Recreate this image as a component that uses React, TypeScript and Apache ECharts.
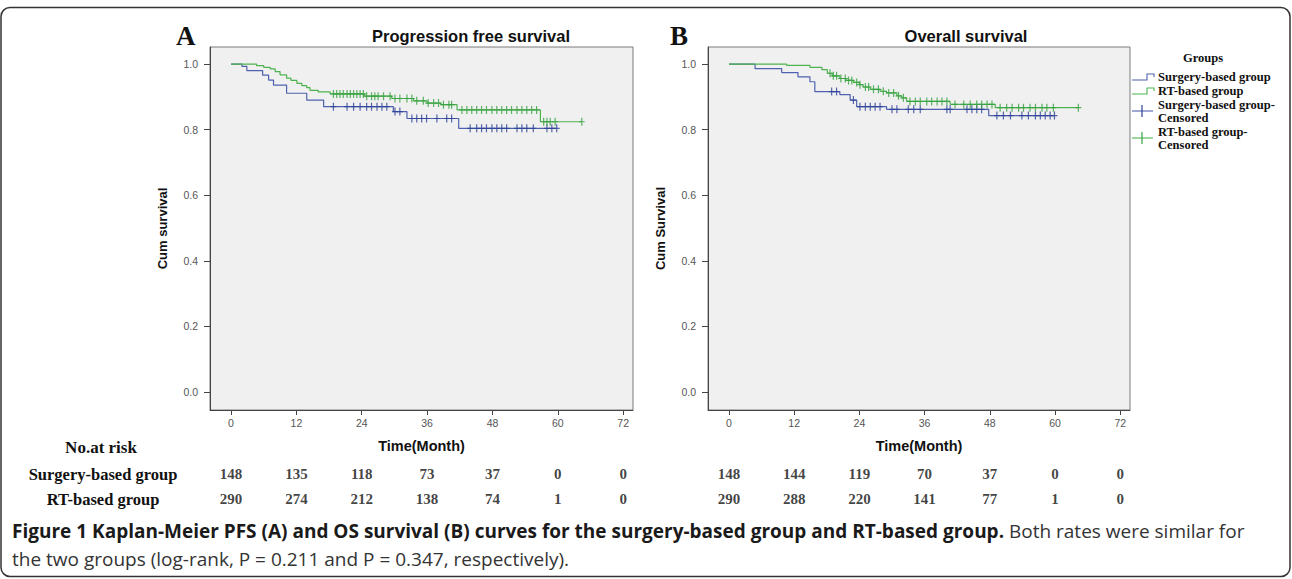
import React, { useEffect, useRef } from "react";
import * as echarts from "echarts";

// ---------- data ----------
const tickMonths = [0, 12, 24, 36, 48, 60, 72];
const yTicks = [0, 0.2, 0.4, 0.6, 0.8, 1.0];
const groupNames = ["Surgery-based group", "RT-based group"];

// Progression free survival (A)
const pfsSurgEventT = [2.0, 2.9, 5.8, 6.9, 7.8, 10.2, 13.9, 17.0, 29.8, 32.3, 41.8];
const pfsSurgEventS = [0.993, 0.98, 0.966, 0.951, 0.936, 0.911, 0.89, 0.87, 0.855, 0.834, 0.804];
const pfsSurgCens = [18.8, 21.3, 22.5, 23.7, 24.9, 25.8, 26.8, 27.7, 28.6, 30.1, 31.0, 33.2, 34.1, 35.0, 35.9, 37.8, 39.6, 40.5, 43.9, 45.1, 46.0, 46.9, 47.9, 48.8, 49.7, 50.6, 52.5, 53.4, 54.3, 55.5, 58.0, 58.9, 59.8];

const pfsRtEventT = [4.7, 6.0, 7.2, 8.1, 9.0, 10.2, 11.0, 12.1, 13.0, 13.9, 14.5, 16.0, 18.2, 24.5, 29.5, 33.5, 36.0, 38.5, 41.5, 56.8];
const pfsRtEventS = [0.995, 0.99, 0.985, 0.977, 0.967, 0.957, 0.95, 0.941, 0.934, 0.928, 0.92, 0.915, 0.909, 0.902, 0.895, 0.888, 0.881, 0.876, 0.86, 0.824];
const pfsRtCens = [18.8, 19.4, 20.0, 20.6, 21.3, 21.9, 22.5, 23.1, 23.7, 24.3, 24.9, 25.8, 26.4, 27.0, 28.0, 29.2, 30.1, 31.0, 32.3, 33.2, 34.1, 35.3, 36.2, 37.2, 38.1, 39.0, 40.0, 40.5, 42.4, 43.3, 44.2, 45.1, 46.0, 46.9, 47.9, 48.8, 49.7, 50.6, 51.5, 52.5, 53.4, 54.3, 55.2, 56.1, 57.4, 58.0, 58.6, 59.5, 64.4];

// Overall survival (B)
const osSurgEventT = [4.8, 9.7, 12.7, 14.9, 15.8, 20.4, 22.3, 23.5, 29.0, 47.8];
const osSurgEventS = [0.986, 0.974, 0.961, 0.946, 0.916, 0.907, 0.89, 0.87, 0.862, 0.843];
const osSurgCens = [18.9, 19.8, 22.9, 24.1, 25.1, 26.0, 26.9, 27.8, 30.0, 30.9, 33.0, 34.0, 35.2, 40.1, 40.7, 43.8, 44.7, 45.6, 46.5, 49.3, 50.5, 51.8, 53.9, 55.1, 56.4, 57.3, 58.2, 59.1, 59.9];

const osRtEventT = [10.6, 14.9, 17.1, 18.1, 19.0, 20.4, 21.5, 22.9, 24.0, 24.7, 26.0, 27.8, 29.0, 30.9, 31.8, 32.7, 40.7, 49.0];
const osRtEventS = [0.996, 0.99, 0.983, 0.972, 0.964, 0.956, 0.95, 0.944, 0.937, 0.93, 0.923, 0.917, 0.912, 0.903, 0.897, 0.886, 0.877, 0.867];
const osRtCens = [18.6, 19.2, 19.8, 20.6, 21.4, 22.0, 22.6, 23.5, 24.1, 25.1, 25.7, 26.6, 27.5, 28.4, 29.4, 30.3, 31.2, 32.1, 33.3, 34.3, 35.2, 36.4, 37.3, 38.3, 39.2, 40.1, 41.6, 43.2, 44.4, 45.6, 46.5, 47.5, 48.4, 49.9, 51.1, 52.1, 53.3, 54.2, 55.4, 56.4, 57.6, 58.5, 59.7, 64.3];

// Number at risk
const pfsRiskSurg = [148, 135, 118, 73, 37, 0, 0];
const pfsRiskRt = [290, 274, 212, 138, 74, 1, 0];
const osRiskSurg = [148, 144, 119, 70, 37, 0, 0];
const osRiskRt = [290, 288, 220, 141, 77, 1, 0];

// ---------- helpers ----------
const BLUE = "#4f61ae";
const BLUE_D = "#2c4196";
const GREEN = "#4db34f";
const GREEN_D = "#36a040";
const PLUS =
  "path://M2.4,0 L3.6,0 L3.6,3.4 L6,3.4 L6,4.6 L3.6,4.6 L3.6,8 L2.4,8 L2.4,4.6 L0,4.6 L0,3.4 L2.4,3.4 Z";

function kmLine(evT: number[], evS: number[], cens: number[]) {
  const pts: number[][] = [[0, 1]];
  evT.forEach((t, i) => pts.push([t, evS[i]]));
  const end = Math.max(...cens, evT[evT.length - 1]);
  pts.push([end, evS[evS.length - 1]]);
  return pts;
}
function survAt(evT: number[], evS: number[], t: number) {
  let s = 1;
  for (let i = 0; i < evT.length; i++) if (evT[i] <= t) s = evS[i];
  return s;
}
function censPts(evT: number[], evS: number[], cens: number[]) {
  return cens.map((t) => [t, survAt(evT, evS, t)]);
}
function riskPts(surg: number[], rt: number[]) {
  const out: any[] = [];
  tickMonths.forEach((t, i) => {
    out.push([t, groupNames[0], surg[i]]);
    out.push([t, groupNames[1], rt[i]]);
  });
  return out;
}

const X_MIN = -3.86;
const X_MAX = 73.8;
const Y_MIN = -0.055;
const Y_MAX = 1.052;

function plotX(gi: number, name: string) {
  return {
    type: "value",
    gridIndex: gi,
    min: X_MIN,
    max: X_MAX,
    name,
    nameLocation: "middle",
    nameGap: 28,
    nameTextStyle: { fontFamily: "Liberation Sans", fontWeight: "bold", fontSize: 14.5, color: "#111" },
    axisLine: { show: true, onZero: false, lineStyle: { color: "#444", width: 1 } },
    axisTick: { show: true, length: 5, customValues: tickMonths, lineStyle: { color: "#444" } },
    axisLabel: { show: true, customValues: tickMonths, margin: 7, fontSize: 10.5, color: "#555", fontFamily: "Liberation Sans" },
    splitLine: { show: false },
  };
}
function plotY(gi: number, name: string) {
  return {
    type: "value",
    gridIndex: gi,
    min: Y_MIN,
    max: Y_MAX,
    name,
    nameLocation: "middle",
    nameGap: 41,
    nameRotate: 90,
    nameTextStyle: { fontFamily: "Liberation Sans", fontWeight: "bold", fontSize: 13, color: "#111" },
    axisLine: { show: true, onZero: false, lineStyle: { color: "#444", width: 1 } },
    axisTick: { show: true, length: 6, customValues: yTicks, lineStyle: { color: "#444" } },
    axisLabel: {
      show: true,
      customValues: yTicks,
      margin: 12,
      fontSize: 10.5,
      color: "#555",
      fontFamily: "Liberation Sans",
      formatter: (v: number) => v.toFixed(1),
    },
    splitLine: { show: false },
  };
}

function kmSeries(ax: number, evT: number[], evS: number[], cens: number[], name: string, col: string, colD: string) {
  return [
    {
      type: "line",
      name,
      xAxisIndex: ax,
      yAxisIndex: ax,
      step: "end",
      data: kmLine(evT, evS, cens),
      symbol: "none",
      lineStyle: { color: col, width: 1.2 },
      z: 2,
    },
    {
      type: "scatter",
      name: name + "-Censored",
      xAxisIndex: ax,
      yAxisIndex: ax,
      data: censPts(evT, evS, cens),
      symbol: PLUS,
      symbolSize: [6, 8],
      itemStyle: { color: colD },
      z: 3,
    },
  ];
}

function riskSeries(ax: number, surg: number[], rt: number[]) {
  return {
    type: "scatter",
    xAxisIndex: ax,
    yAxisIndex: ax,
    data: riskPts(surg, rt),
    symbolSize: 1,
    itemStyle: { color: "rgba(0,0,0,0)" },
    label: {
      show: true,
      position: "inside",
      formatter: (p: any) => String(p.value[2]),
      fontFamily: "Liberation Serif",
      fontWeight: "bold",
      fontSize: 15,
      color: "#111",
    },
  };
}

const serifBold = { fontFamily: "Liberation Serif", fontWeight: "bold" };

function legendGraphics() {
  const g: any[] = [];
  const txt = (x: number, y: number, text: string) => ({
    type: "text",
    x,
    y,
    style: { text, ...serifBold, fontSize: 12.5, fill: "#111", align: "left", verticalAlign: "middle" },
  });
  g.push({
    type: "text",
    x: 1203,
    y: 58,
    style: { text: "Groups", ...serifBold, fontSize: 12.5, fill: "#111", align: "center", verticalAlign: "middle" },
  });
  const step = (y: number, col: string) => ({
    type: "polyline",
    shape: { points: [[1132, y + 3], [1147, y + 3], [1147, y - 3], [1154, y - 3], [1154, y]] },
    style: { stroke: col, fill: "none", lineWidth: 1.1 },
  });
  g.push(step(77, BLUE), txt(1158, 77, groupNames[0]));
  g.push(step(91, GREEN), txt(1158, 91, groupNames[1]));
  const cens = (y: number, col: string, colD: string) => [
    { type: "line", shape: { x1: 1132, y1: y, x2: 1153, y2: y }, style: { stroke: col, lineWidth: 1.1 } },
    { type: "line", shape: { x1: 1142, y1: y - 6, x2: 1142, y2: y + 6 }, style: { stroke: colD, lineWidth: 1.2 } },
  ];
  g.push(...cens(111, BLUE, BLUE_D), txt(1158, 105, groupNames[0] + "-"), txt(1158, 118, "Censored"));
  g.push(...cens(138, GREEN, GREEN_D), txt(1158, 132, groupNames[1] + "-"), txt(1158, 145, "Censored"));
  return g;
}

export default function App() {
  const ref = useRef<HTMLDivElement>(null);
  useEffect(() => {
    if (!ref.current) return;
    const chart = echarts.init(ref.current, undefined, { renderer: "svg" });
    const option: any = {
      animation: false,
      backgroundColor: "#ffffff",
      textStyle: { fontFamily: "Liberation Sans" },
      grid: [
        { left: 210, top: 47, width: 423, height: 363, show: true, backgroundColor: "#f0f0f0", borderColor: "#7a7a7a", borderWidth: 1 },
        { left: 708, top: 47, width: 422, height: 363, show: true, backgroundColor: "#f0f0f0", borderColor: "#7a7a7a", borderWidth: 1 },
        { left: 210, top: 461.5, width: 423, height: 50, show: false },
        { left: 708, top: 461.5, width: 422, height: 50, show: false },
      ],
      xAxis: [
        plotX(0, "Time(Month)"),
        plotX(1, "Time(Month)"),
        { type: "value", gridIndex: 2, min: X_MIN, max: X_MAX, show: false },
        { type: "value", gridIndex: 3, min: X_MIN, max: X_MAX, show: false },
      ],
      yAxis: [
        plotY(0, "Cum survival"),
        plotY(1, "Cum Survival"),
        {
          type: "category",
          gridIndex: 2,
          data: groupNames,
          inverse: true,
          axisLine: { show: false },
          axisTick: { show: false },
          splitLine: { show: false },
          axisLabel: { show: true, align: "center", margin: 107, ...serifBold, fontSize: 16.5, color: "#111" },
        },
        { type: "category", gridIndex: 3, data: groupNames, inverse: true, show: false },
      ],
      series: [
        ...kmSeries(0, pfsSurgEventT, pfsSurgEventS, pfsSurgCens, groupNames[0], BLUE, BLUE_D),
        ...kmSeries(0, pfsRtEventT, pfsRtEventS, pfsRtCens, groupNames[1], GREEN, GREEN_D),
        ...kmSeries(1, osSurgEventT, osSurgEventS, osSurgCens, groupNames[0], BLUE, BLUE_D),
        ...kmSeries(1, osRtEventT, osRtEventS, osRtCens, groupNames[1], GREEN, GREEN_D),
        riskSeries(2, pfsRiskSurg, pfsRiskRt),
        riskSeries(3, osRiskSurg, osRiskRt),
      ],
      graphic: [
        {
          type: "rect",
          shape: { x: 1, y: 7.5, width: 1289, height: 569, r: 9 },
          style: { fill: "none", stroke: "#333", lineWidth: 1.5 },
        },
        { type: "text", x: 176, y: 36, style: { text: "A", ...serifBold, fontSize: 27, fill: "#111", align: "left", verticalAlign: "middle" } },
        { type: "text", x: 670, y: 36, style: { text: "B", ...serifBold, fontSize: 27, fill: "#111", align: "left", verticalAlign: "middle" } },
        {
          type: "text",
          x: 471,
          y: 36,
          style: { text: "Progression free survival", fontFamily: "Liberation Sans", fontWeight: "bold", fontSize: 16.5, fill: "#111", align: "center", verticalAlign: "middle" },
        },
        {
          type: "text",
          x: 966,
          y: 36,
          style: { text: "Overall survival", fontFamily: "Liberation Sans", fontWeight: "bold", fontSize: 16.5, fill: "#111", align: "center", verticalAlign: "middle" },
        },
        { type: "text", x: 101, y: 447, style: { text: "No.at risk", ...serifBold, fontSize: 17, fill: "#111", align: "center", verticalAlign: "middle" } },
        ...legendGraphics(),
        {
          type: "text",
          x: 12,
          y: 517,
          style: {
            text:
              "{b|Figure 1 Kaplan-Meier PFS (A) and OS survival (B) curves for the surgery-based group and RT-based group.}{r| Both rates were similar for}\n{r|the two groups (log-rank, P = 0.211 and P = 0.347, respectively).}",
            align: "left",
            verticalAlign: "top",
            rich: {
              b: { fontFamily: "Open Sans", fontWeight: "bold", fontSize: 19, lineHeight: 28, fill: "#1a1a1a", color: "#1a1a1a" },
              r: { fontFamily: "Open Sans", fontWeight: "normal", fontSize: 19, lineHeight: 28, fill: "#333", color: "#333" },
            },
          },
        },
      ],
    };
    chart.setOption(option);
    return () => chart.dispose();
  }, []);
  return <div ref={ref} style={{ position: "absolute", left: 0, top: 0, width: 1292, height: 579 }} />;
}
